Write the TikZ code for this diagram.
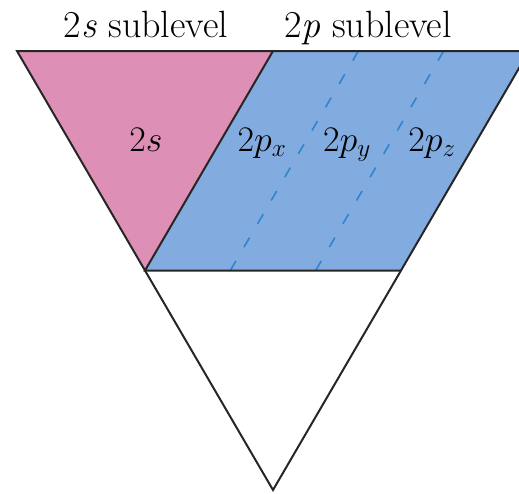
\RequirePackage{fix-cm}
\documentclass[tikz,border=0pt]{standalone}
\usepackage{amsmath}
\usepackage{xcolor}
\usepackage{tikz}
\usetikzlibrary{calc}
\definecolor{sfill}{HTML}{DE8FB6}
\definecolor{pfill}{HTML}{82ABE0}
\definecolor{pdash}{HTML}{2F86CF}
\tikzset{
  edge/.style={line width=2pt,black!85},
  sep/.style={pdash,line width=1.6pt,dash pattern=on 11pt off 16pt},
  lab/.style={font=\fontsize{36}{42}\selectfont,anchor=base,inner sep=0pt},
  head/.style={font=\fontsize{38}{44}\selectfont,anchor=base,inner sep=0pt}
}
\begin{document}
\begin{tikzpicture}[x=1pt,y=-1pt]
\useasboundingbox (0,0) rectangle (519,493);
\clip (0,0) rectangle (519,493);
% corners of the big triangle
\coordinate (tl) at (17,51);
\coordinate (tr) at (529,51);
\coordinate (apex) at (273,490);
\coordinate (tm) at ($(tl)!0.5!(tr)$);
\coordinate (ml) at ($(tl)!0.5!(apex)$);
\coordinate (mr) at ($(tr)!0.5!(apex)$);
% sublevels
\fill[sfill] (tl)--(tm)--(ml)--cycle;
\fill[pfill] (tm)--(tr)--(mr)--(ml)--cycle;
\foreach \k in {1,2}{
  \draw[sep] ($(tm)!\k/3!(tr)$) -- ($(ml)!\k/3!(mr)$);
}
\draw[edge] (tl)--(tr)--(apex)--cycle;
\draw[edge] (tm)--(ml)--(mr);
% labels
\node[head] (shead) at (146,37) {2\textit{s} sublevel};
\node[head] (phead) at (368,37) {2\textit{p} sublevel};
\node[lab] (s) at (146,151) {$2s$};
\node[lab] (px) at (262,151) {$2p_x$};
\node[lab] (py) at (347,151) {$2p_y$};
\node[lab] (pz) at (432,151) {$2p_z$};
\end{tikzpicture}
\end{document}
